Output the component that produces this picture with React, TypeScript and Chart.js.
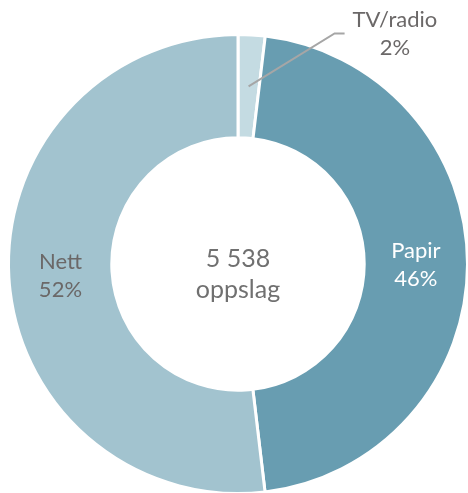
import React, { useEffect, useRef } from "react";
import { Chart, registerables } from "chart.js";

Chart.register(...registerables);

const categories = ["TV/radio", "Papir", "Nett"];
const counts = [105, 2560, 2873];
const percentLabels = ["2%", "46%", "52%"];
const totalLabel = "5 538";
const totalUnit = "oppslag";
const sliceColors = ["#c4dbe2", "#689db1", "#a2c3cf"];
const labelColors = ["#6b6868", "#ffffff", "#6b6868"];

const FONT = '"Lato", "Noto Sans", sans-serif';

const labelPlugin = {
  id: "sliceLabels",
  afterDatasetsDraw(chart: any) {
    const ctx = chart.ctx as CanvasRenderingContext2D;
    const meta = chart.getDatasetMeta(0);
    ctx.save();
    ctx.font = `22px ${FONT}`;
    ctx.textAlign = "center";
    ctx.textBaseline = "middle";
    meta.data.forEach((arc: any, i: number) => {
      const p = arc.getCenterPoint();
      const lines = [categories[i], percentLabels[i]];
      ctx.fillStyle = labelColors[i];
      if (i === 0) {
        const ex = p.x + 86;
        const ey = p.y - 53;
        ctx.strokeStyle = "#a6a6a6";
        ctx.lineWidth = 2;
        ctx.beginPath();
        ctx.moveTo(p.x, p.y);
        ctx.lineTo(ex, ey);
        ctx.lineTo(ex + 10, ey);
        ctx.stroke();
        const w = Math.max(...lines.map((l) => ctx.measureText(l).width));
        const cx = ex + 18 + w / 2;
        ctx.fillText(lines[0], cx, ey - 14);
        ctx.fillText(lines[1], cx, ey + 14);
      } else {
        ctx.fillText(lines[0], p.x, p.y - 13);
        ctx.fillText(lines[1], p.x, p.y + 15);
      }
    });
    const c = meta.data[0];
    ctx.fillStyle = "#707070";
    ctx.font = `25px ${FONT}`;
    ctx.textBaseline = "alphabetic";
    ctx.fillText(totalLabel, c.x, c.y + 3);
    ctx.fillText(totalUnit, c.x, c.y + 34);
    ctx.restore();
  },
};

export default function App() {
  const ref = useRef<HTMLCanvasElement | null>(null);
  useEffect(() => {
    if (!ref.current) return;
    const chart = new Chart(ref.current, {
      type: "doughnut",
      data: {
        labels: categories,
        datasets: [
          {
            data: counts,
            backgroundColor: sliceColors,
            borderColor: "#ffffff",
            borderWidth: 3,
            hoverOffset: 0,
          },
        ],
      },
      options: {
        responsive: false,
        animation: false,
        cutout: "55%",
        layout: { padding: { left: 7, right: 1, top: 33, bottom: 5 } },
        plugins: {
          legend: { display: false },
          tooltip: { enabled: false },
        },
        events: [],
      },
      plugins: [labelPlugin],
    });
    return () => chart.destroy();
  }, []);
  return (
    <div
      style={{
        position: "absolute",
        left: 0,
        top: 0,
        width: 468,
        height: 493,
        overflow: "hidden",
        background: "#ffffff",
      }}
    >
      <canvas ref={ref} width={470} height={500} style={{ width: 470, height: 500, display: "block" }} />
    </div>
  );
}
